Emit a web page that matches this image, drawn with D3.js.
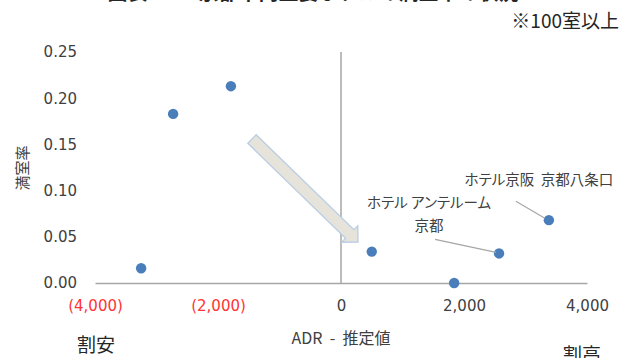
<!DOCTYPE html>
<html lang="ja">
<head>
<meta charset="utf-8">
<script src="https://cdn.jsdelivr.net/npm/d3@7"></script>
<style>
  html, body { margin: 0; padding: 0; background: #fff; }
  svg { display: block; }
  text { font-family: "DejaVu Sans", "Noto Sans CJK JP", sans-serif; }
  .jp { font-family: "Noto Sans CJK JP", sans-serif; }
</style>
</head>
<body>
<svg id="chart" width="632" height="358"></svg>
<script>
// ADR minus estimated price (yen) and occupancy share, hotels with 100+ rooms
const adrGap    = [-3250, -2730, -1790, 500, 1840, 2570, 3380];
const occupancy = [0.016, 0.183, 0.213, 0.034, 0.000, 0.032, 0.068];
const hotelNames = [null, null, null, null, null,
                    ["ホテル アンテルーム", "京都"],
                    ["ホテル京阪  京都八条口"]];
const xTicks = [-4000, -2000, 0, 2000, 4000];
const yTicks = [0, 0.05, 0.10, 0.15, 0.20, 0.25];

const titleText = "図表3-6　京都市内主要ホテルの満室率の状況";
const noteText = "※100室以上";
const xTitle = "ADR  -  推定値";
const yTitle = "満室率";
const lowSide = "割安";
const highSide = "割高";

const svg = d3.select("#chart");
const plot = { left: 95, right: 587, top: 52, bottom: 283 };

const x = d3.scaleLinear().domain([-4000, 4000]).range([plot.left, plot.right]);
const y = d3.scaleLinear().domain([0, 0.25]).range([plot.bottom, plot.top]);

const ink = "#404040";
const axisGrey = "#a6a6a6";

// title (runs off the top edge) and note
svg.append("text").attr("class", "jp")
  .attr("x", 313).attr("y", 0).attr("text-anchor", "middle")
  .attr("font-size", 20).attr("font-weight", "bold").attr("fill", "#262626")
  .text(titleText);
svg.append("text").attr("class", "jp")
  .attr("x", 619).attr("y", 28).attr("text-anchor", "end")
  .attr("font-size", 19).attr("fill", "#262626")
  .text(noteText);

// y axis: labels only
const yAxis = d3.axisLeft(y).tickValues(yTicks).tickFormat(d3.format(".2f"))
  .tickSize(0).tickPadding(18);
const gy = svg.append("g").attr("transform", `translate(${plot.left},0)`).call(yAxis);
gy.select(".domain").remove();
gy.selectAll("text").attr("font-size", 15).attr("fill", ink)
  .attr("font-family", "DejaVu Sans, sans-serif");

// x axis: line along zero occupancy, labels below; negatives in parentheses and red
const fmt = d3.format(",");
const xAxis = d3.axisBottom(x).tickValues(xTicks)
  .tickFormat(d => d < 0 ? `(${fmt(-d)})` : fmt(d))
  .tickSize(0).tickPadding(17);
const gx = svg.append("g").attr("transform", `translate(0,${plot.bottom})`).call(xAxis);
gx.select(".domain").attr("stroke", axisGrey).attr("stroke-width", 1.5);
gx.selectAll("text").attr("font-size", 15)
  .attr("font-family", "DejaVu Sans, sans-serif")
  .attr("fill", d => d < 0 ? "#ff3333" : ink);

// vertical axis line at ADR gap = 0
svg.append("line")
  .attr("x1", x(0)).attr("x2", x(0))
  .attr("y1", y(0.25)).attr("y2", y(0))
  .attr("stroke", axisGrey).attr("stroke-width", 1.5);

// axis titles
svg.append("text").attr("class", "jp")
  .attr("x", x(0)).attr("y", 344).attr("text-anchor", "middle")
  .attr("font-size", 16).attr("fill", ink).attr("xml:space", "preserve")
  .text(xTitle);
svg.append("text").attr("class", "jp")
  .attr("transform", `translate(28,168) rotate(-90)`).attr("text-anchor", "middle")
  .attr("font-size", 15).attr("fill", ink)
  .text(yTitle);
svg.append("text").attr("class", "jp")
  .attr("x", x(-4000) + 1).attr("y", 352).attr("text-anchor", "middle")
  .attr("font-size", 19).attr("fill", "#262626")
  .text(lowSide);
svg.append("text").attr("class", "jp")
  .attr("x", x(4000) - 5).attr("y", 362).attr("text-anchor", "middle")
  .attr("font-size", 19).attr("fill", "#262626")
  .text(highSide);

// block arrow pointing down-right across the chart
const tail = [252, 139], tip = [358, 242];
const ang = Math.atan2(tip[1] - tail[1], tip[0] - tail[0]);
const len = Math.hypot(tip[0] - tail[0], tip[1] - tail[1]);
const shaftHalf = 6, headHalf = 11.5, headLen = 11.5;
const local = [[0, -shaftHalf], [len - headLen, -shaftHalf], [len - headLen, -headHalf],
               [len, 0], [len - headLen, headHalf], [len - headLen, shaftHalf], [0, shaftHalf]];
const arrowPts = local.map(([u, v]) => [
  tail[0] + u * Math.cos(ang) - v * Math.sin(ang),
  tail[1] + u * Math.sin(ang) + v * Math.cos(ang)
]);
svg.append("path")
  .attr("d", d3.line()(arrowPts) + "Z")
  .attr("fill", "#e5e3da").attr("stroke", "#b9cde5").attr("stroke-width", 1.3);

// scatter points
const pts = adrGap.map((v, i) => ({ gap: v, occ: occupancy[i], name: hotelNames[i] }));
svg.append("g").selectAll("circle").data(pts).join("circle")
  .attr("cx", d => x(d.gap)).attr("cy", d => y(d.occ)).attr("r", 5.2)
  .attr("fill", "#4a7ebb");

// callout labels with leader lines
const callouts = {
  5: { tx: -70, ty: -45, lead: [[-64, -14], [-3, -1]] },
  6: { tx: -10, ty: -35, lead: [[-33, -19], [-4, -2]] }
};
pts.forEach((d, i) => {
  if (!d.name) return;
  const c = callouts[i];
  const px = x(d.gap), py = y(d.occ);
  svg.append("line")
    .attr("x1", px + c.lead[0][0]).attr("y1", py + c.lead[0][1])
    .attr("x2", px + c.lead[1][0]).attr("y2", py + c.lead[1][1])
    .attr("stroke", "#a6a6a6").attr("stroke-width", 1.2);
  const t = svg.append("text").attr("class", "jp")
    .attr("text-anchor", "middle").attr("font-size", 14.5).attr("fill", ink)
    .attr("xml:space", "preserve")
    .style("font-feature-settings", "'palt'");
  d.name.forEach((line, k) => {
    t.append("tspan").attr("x", px + c.tx).attr("y", py + c.ty + k * 23).text(line);
  });
});
</script>
</body>
</html>
